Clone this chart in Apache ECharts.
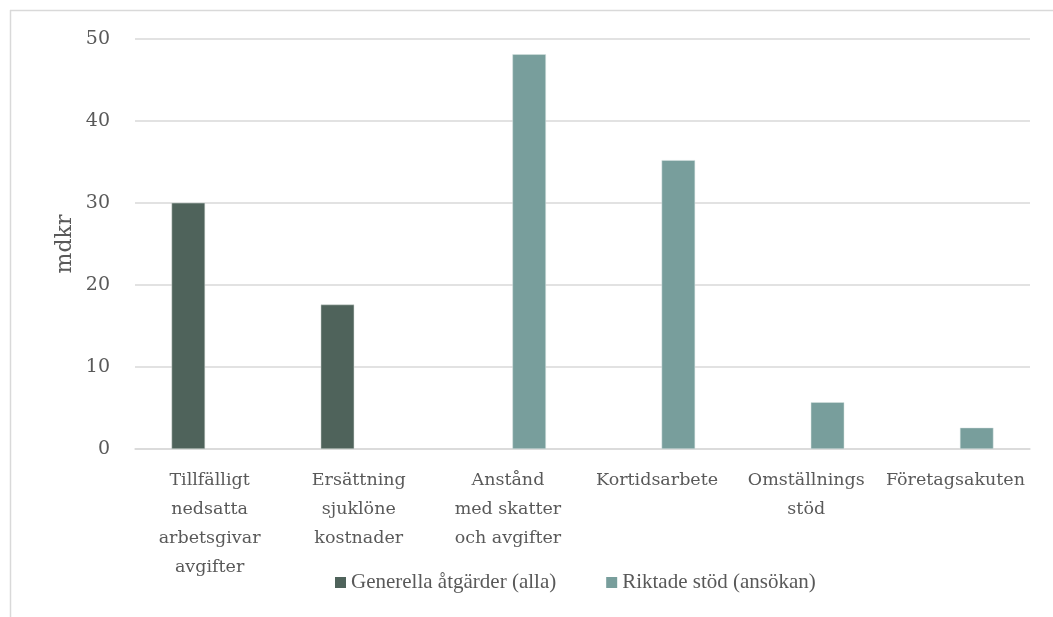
<!DOCTYPE html>
<html><head><meta charset="utf-8">
<script src="https://cdn.jsdelivr.net/npm/echarts@6/dist/echarts.min.js"></script>
<style>html,body{margin:0;padding:0;background:#fff}#c{width:1053px;height:617px}</style>
</head><body><div id="c"></div>
<script>
const categories = ["Tillfälligt\nnedsatta\narbetsgivar\navgifter", "Ersättning\nsjuklöne\nkostnader", "Anstånd\nmed skatter\noch avgifter", "Kortidsarbete", "Omställnings\nstöd", "Företagsakuten"];
const seriesNames = ["Generella åtgärder (alla)", "Riktade stöd (ansökan)"];
const generella = [30, 17.6, null, null, null, null];
const riktade = [null, null, 48.1, 35.2, 5.7, 2.6];
const yTicks = [0, 10, 20, 30, 40, 50];
const yAxisTitle = "mdkr";

const FONT = "DejaVu Serif";
const LEGEND_FONT = "Liberation Serif";
const chart = echarts.init(document.getElementById('c'), null, {renderer: 'canvas'});
chart.setOption({
  backgroundColor: '#fff',
  animation: false,
  textStyle: {fontFamily: FONT},
  graphic: [
    {type: 'line', shape: {x1: 10, y1: 10.5, x2: 1053, y2: 10.5}, style: {stroke: '#d9d9d9', lineWidth: 1.5}},
    {type: 'line', shape: {x1: 10.5, y1: 10, x2: 10.5, y2: 617}, style: {stroke: '#d9d9d9', lineWidth: 1.5}},
    {type: 'text', x: 65, y: 244, rotation: Math.PI / 2,
     style: {text: yAxisTitle, align: 'center', verticalAlign: 'middle', fill: '#595959',
             font: '22px "DejaVu Serif"'}}
  ],
  grid: {left: 135, right: 23, top: 38.7, bottom: 168, containLabel: false},
  legend: {
    data: seriesNames,
    left: 330, top: 567,
    itemWidth: 11, itemHeight: 11, itemGap: 50,
    icon: 'rect',
    itemStyle: {borderWidth: 0},
    textStyle: {fontFamily: LEGEND_FONT, fontSize: 21, color: '#595959'}
  },
  xAxis: {
    type: 'category',
    data: categories,
    axisLine: {lineStyle: {color: '#d9d9d9', width: 1.5}},
    axisTick: {show: false},
    axisLabel: {interval: 0, fontFamily: FONT, fontSize: 17.5, color: '#595959', lineHeight: 29, margin: 17}
  },
  yAxis: {
    type: 'value', min: 0, max: 50, interval: 10,
    axisLine: {show: false}, axisTick: {show: false},
    axisLabel: {fontFamily: FONT, fontSize: 19, color: '#595959', margin: 25,
      formatter: v => yTicks.includes(v) ? String(v) : ''},
    splitLine: {lineStyle: {color: '#d9d9d9', width: 1.5}}
  },
  series: [
    {name: seriesNames[0], type: 'bar', data: generella, barWidth: 33.5, barGap: '27%',
     itemStyle: {color: '#4f635b', borderColor: '#d0d8d5', borderWidth: 0.5}},
    {name: seriesNames[1], type: 'bar', data: riktade, barWidth: 33.5, barGap: '27%',
     itemStyle: {color: '#789e9c', borderColor: '#d8e4e3', borderWidth: 0.5}}
  ]
});
</script></body></html>
